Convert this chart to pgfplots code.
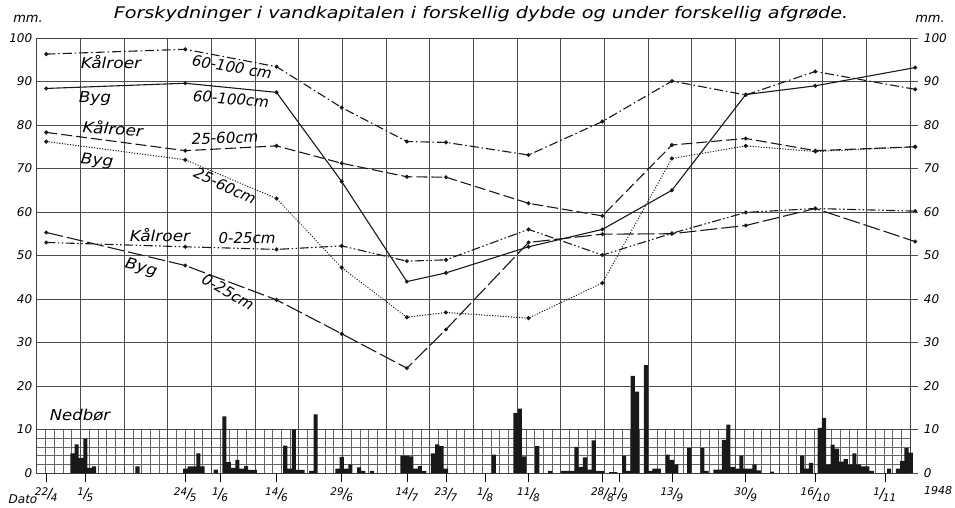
\documentclass[border=0pt]{standalone}
\usepackage{fontspec}
\setmainfont{DejaVu Sans}
\usepackage{pgfplots}
\pgfplotsset{compat=1.18}
\newcommand{\dl}[2]{\fontsize{10.5}{10.5}\selectfont\itshape\raisebox{3pt}{#1}\kern-0.5pt{\fontsize{14}{14}\selectfont /}\kern-1.5pt\raisebox{-3.5pt}{#2}}
\newcommand{\lab}{\itshape\fontsize{15}{15}\selectfont}
\newcommand{\wide}[1]{\scalebox{1.13}[1]{#1}}
\begin{document}
\begin{tikzpicture}
\path[use as bounding box] (-36.7pt,-35pt) rectangle (918.3pt,473pt);
% fine grid of the precipitation panel
\foreach \k in {1,...,99} \draw[black!60, line width=0.4pt] ({\k*8.733pt},0pt) -- ({\k*8.733pt},43.5pt);
\foreach \v in {1,...,4} \draw[black!60, line width=0.4pt] (0pt,{\v*8.7pt}) -- (873.3pt,{\v*8.7pt});
\begin{axis}[
  scale only axis, width=873.3pt, height=435pt,
  xmin=110.8, xmax=311.8, ymin=0, ymax=100,
  clip=false,
  xtick={110.8,120.85,...,312}, xticklabels={},
  major tick length=0pt,
  ytick={0,10,...,100},
  yticklabels={0,10,20,30,40,50,60,70,80,90,100},
  grid=major, major grid style={black!70, line width=0.6pt},
  axis line style={black!75, line width=0.7pt},
  yticklabel style={font=\itshape\fontsize{12}{12}\selectfont, xshift=-1pt},
  ytick pos=left, xtick pos=bottom,
  tick style={black, line width=0.6pt},
  extra x ticks={113,122,145,153,166,181,196,205,214,224,241,245,257,274,290,306,313},
  extra x tick labels={\dl{22}{4},\dl{1}{5},\dl{24}{5},\dl{1}{6},\dl{14}{6},\dl{29}{6},\dl{14}{7},\dl{23}{7},\dl{1}{8},\dl{11}{8},\dl{28}{8},\dl{1}{9},\dl{13}{9},\dl{30}{9},\dl{16}{10},\dl{1}{11},\dl{8}{11}},
  extra x tick style={grid=none, major tick length=9pt, tick align=outside, xticklabel style={yshift=-2pt}},
]
% precipitation (Nedbør), mm per day
\addplot[ybar, bar width=0.95, fill=black!90, draw=none] coordinates {
(119,4.5)(120,6.6)(121,3.5)(122,7.9)(123,1.2)(124,1.5)
(134,1.5)
(145,1)(146,1.5)(147,1.5)(148,4.5)(149,1.5)
(152,0.8)(154,13)(155,2.5)(156,1.2)(157,3)(158,1)(159,1.6)(160,0.7)(161,0.7)
(168,6.3)(169,1)(170,10)(171,0.7)(172,0.7)
(174,0.5)(175,13.5)
(180,1)(181,3.7)(182,1)(183,2)
(185,1.3)(186,0.5)(188,0.5)
(195,4)(196,4)(197,3.8)(198,1)(199,1.6)(200,0.5)
(202,4.5)(203,6.6)(204,6.2)(205,1)
(216,4.2)
(221,13.8)(222,14.8)(223,3.8)
(226,6.2)
(229,0.5)
(232,0.5)(233,0.5)(234,0.5)(235,6)(236,1.4)(237,3.6)(238,0.8)(239,7.5)(240,0.5)(241,0.5)
(243,0.2)(244,0.2)
(246,4)(247,0.5)(248,22.3)(249,18.7)(251,24.8)(252,0.5)(253,1)(254,1)
(256,4.2)(257,3)(258,2)
(261,5.7)
(264,5.7)(265,0.5)
(267,0.8)(268,0.8)(269,7.6)(270,11.1)(271,1.4)(272,1)(273,4)(274,1)(275,1)(276,2)(277,0.6)
(280,0.3)
(287,4)(288,1)(289,2.3)
(291,10.4)(292,12.7)(293,2)(294,6.5)(295,5.6)(296,2.6)(297,3.2)(298,2)(299,4.5)(300,2)(301,1.5)(302,1.5)(303,0.5)
(307,1)(309,1)(310,2.8)(311,5.7)(312,4.7)
};
% Kålroer 60-100 cm
\addplot[black!90, line width=1.1pt, dash pattern=on 9pt off 3pt on 1.5pt off 3pt, mark=*, mark size=1.4pt, mark options={solid}] coordinates {
(113,96.3)(145,97.4)(166,93.4)(181,84)(196,76.2)(205,76)(224,73.1)(241,80.8)(257,90.1)(274,86.9)(290,92.3)(313,88.2)};
% Byg 60-100 cm
\addplot[black!90, line width=1.1pt, mark=*, mark size=1.4pt] coordinates {
(113,88.4)(145,89.6)(166,87.5)(181,67)(196,44)(205,46)(224,52)(241,56)(257,65)(274,87)(290,89)(313,93.2)};
% Kålroer 25-60 cm
\addplot[black!90, line width=1.1pt, dash pattern=on 11pt off 4pt, mark=*, mark size=1.4pt, mark options={solid}] coordinates {
(113,78.3)(145,74.1)(166,75.2)(181,71.2)(196,68.1)(205,68)(224,62)(241,59.1)(257,75.4)(274,76.9)(290,74.1)(313,75)};
% Byg 25-60 cm
\addplot[black!90, line width=1.2pt, line cap=round, dash pattern=on 0.3pt off 2.4pt, mark=*, mark size=1.4pt, mark options={solid}] coordinates {
(113,76.2)(145,72)(166,63.1)(181,47.2)(196,35.8)(205,36.9)(224,35.6)(241,43.7)(257,72.3)(274,75.2)(290,73.9)(313,75)};
% Kålroer 0-25 cm
\addplot[black!90, line width=1.1pt, dash pattern=on 9pt off 2.5pt on 1.5pt off 2.5pt on 1.5pt off 2.5pt, mark=*, mark size=1.4pt, mark options={solid}] coordinates {
(113,53)(145,52)(166,51.4)(181,52.2)(196,48.7)(205,49)(224,56)(241,50.1)(257,55.1)(274,59.9)(290,60.8)(313,60.2)};
% Byg 0-25 cm
\addplot[black!90, line width=1.1pt, dash pattern=on 17pt off 4pt, mark=*, mark size=1.4pt, mark options={solid}] coordinates {
(113,55.3)(145,47.7)(166,39.8)(181,32)(196,24.1)(205,33)(224,53)(241,54.9)(257,55)(274,56.9)(290,60.8)(313,53.2)};
\end{axis}
% right-hand scale
\foreach \v in {0,10,...,100} {
  \draw[black!70, line width=0.6pt] (873.3pt,{\v*4.35pt}) -- (881pt,{\v*4.35pt});
  \node[anchor=west, inner sep=0pt, font=\itshape\fontsize{12}{12}\selectfont] at (887pt,{\v*4.35pt}) {\v};
}
% texts
\node[font=\itshape\fontsize{16}{16}\selectfont] at (444.3pt,459pt) {\scalebox{1.2}[1]{Forskydninger i vandkapitalen i forskellig dybde og under forskellig afgrøde.}};
\node[font=\itshape\fontsize{13}{13}\selectfont] at (-8.7pt,454pt) {mm.};
\node[font=\itshape\fontsize{13}{13}\selectfont] at (893.3pt,454pt) {mm.};
\node[font=\lab] at (74.3pt,411pt) {\wide{Kålroer}};
\node[font=\lab, rotate=-10] at (195.3pt,406pt) {60-100 cm};
\node[font=\lab] at (58.3pt,374pt) {\wide{Byg}};
\node[font=\lab, rotate=-5] at (194.3pt,374pt) {60-100cm};
\node[font=\lab, rotate=-4] at (76.3pt,345pt) {\wide{Kålroer}};
\node[font=\lab, rotate=2, inner sep=1pt] at (188.3pt,335pt) {25-60cm};
\node[font=\lab, rotate=-6] at (60.3pt,312pt) {\wide{Byg}};
\node[font=\lab, rotate=-25, inner sep=1pt] at (188.3pt,287pt) {25-60cm};
\node[font=\lab] at (123.3pt,238pt) {\wide{Kålroer}};
\node[font=\lab] at (210.3pt,235pt) {0-25cm};
\node[font=\lab, rotate=-15] at (104.3pt,205pt) {\wide{Byg}};
\node[font=\lab, rotate=-30] at (191.3pt,181pt) {0-25cm};
\node[font=\lab] at (43.3pt,58pt) {\scalebox{1.1}[1]{Nedbør}};
\node[font=\itshape\fontsize{12}{12}\selectfont] at (-13.7pt,-26pt) {Dato};
\node[font=\itshape\fontsize{11}{11}\selectfont] at (901.3pt,-17pt) {1948};
\end{tikzpicture}
\end{document}
